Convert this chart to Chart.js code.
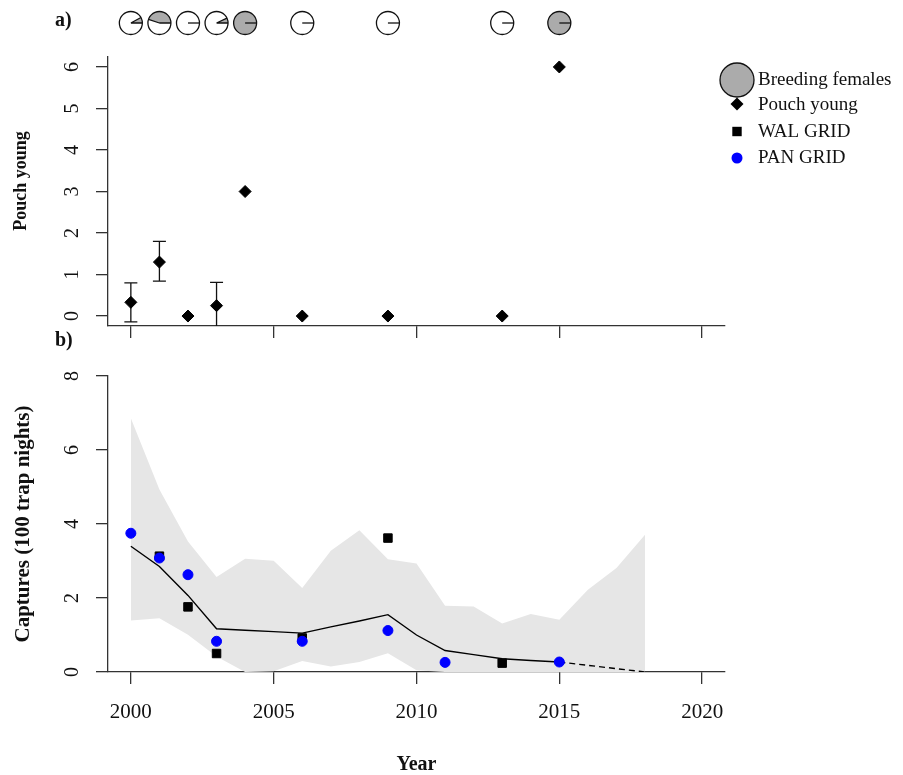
<!DOCTYPE html>
<html>
<head>
<meta charset="utf-8">
<script src="https://cdn.jsdelivr.net/npm/chart.js@4.4.1/dist/chart.umd.min.js"></script>
<style>
  html, body { margin: 0; padding: 0; background: #fff; }
  #wrap { position: relative; width: 903px; height: 775px; }
  #wrap canvas { position: absolute; left: 0; top: 0; }
</style>
</head>
<body>
<div id="wrap">
  <canvas id="pouch" width="903" height="775"></canvas>
  <canvas id="captures" width="903" height="775"></canvas>
</div>
<script>
// ---- panel a: pouch young per survey year ----
const surveyYears     = [2000, 2001, 2002, 2003, 2004, 2006, 2009, 2013, 2015];
const breedingFemales = [0.08, 0.45, 0, 0.07, 1, 0, 0, 0, 1];   // share of females breeding
const pouchYoung      = [0.33, 1.3, 0, 0.25, 3, 0, 0, 0, 6];
const pouchLow        = [-0.14, 0.84, null, -0.31, null, null, null, null, null];
const pouchHigh       = [0.8, 1.8, null, 0.81, null, null, null, null, null];

// ---- panel b: captures per 100 trap nights ----
const walYears    = [2001, 2002, 2003, 2006, 2009, 2013];
const walCaptures = [3.13, 1.76, 0.5, 0.92, 3.62, 0.24];
const panYears    = [2000, 2001, 2002, 2003, 2006, 2009, 2011, 2015];
const panCaptures = [3.75, 3.08, 2.63, 0.83, 0.83, 1.12, 0.26, 0.27];

const trendYears = [2000, 2001, 2002, 2003, 2004, 2005, 2006, 2007, 2008, 2009, 2010, 2011, 2012, 2013, 2014, 2015];
const trendMean  = [3.4, 2.85, 2.07, 1.17, 1.13, 1.09, 1.05, 1.22, 1.38, 1.55, 1.0, 0.58, 0.47, 0.36, 0.31, 0.27];
const projYears  = [2015, 2018];
const projMean   = [0.27, 0];

const bandYears = [2000, 2001, 2002, 2003, 2004, 2005, 2006, 2007, 2008, 2009, 2010, 2011, 2012, 2013, 2014, 2015, 2016, 2017, 2018];
const bandUpper = [6.86, 4.93, 3.53, 2.57, 3.06, 3.01, 2.27, 3.28, 3.83, 3.05, 2.93, 1.79, 1.77, 1.31, 1.57, 1.41, 2.22, 2.81, 3.71];
const bandLower = [1.39, 1.45, 1.01, 0.42, 0, 0.02, 0.3, 0.15, 0.27, 0.51, 0.05, 0, 0, 0, 0, 0, 0, 0, 0];

// ---- tick labels ----
const yearTicks    = [2000, 2005, 2010, 2015, 2020];
const pouchTicks   = [0, 1, 2, 3, 4, 5, 6];
const captureTicks = [0, 2, 4, 6, 8];

// ---- shared styling ----
const SERIF = "'Liberation Serif', 'Times New Roman', serif";
const AXIS = '#333';
const INK = '#111';
const GREY = '#ababab';
const BAND = '#e6e6e6';
const BLUE = '#0000ff';
const W = 903, H = 775;
const PLOT_LEFT = 108, PLOT_RIGHT = 725;

const pts = (xs, ys) => xs.map((x, i) => ({ x, y: ys[i] }));

function xAxis(bottomPx, withLabels) {
  return {
    type: 'linear', min: 1999.2, max: 2020.8,
    afterBuildTicks: s => { s.ticks = yearTicks.map(v => ({ value: v })); },
    afterFit: s => { s.height = H - bottomPx; },
    grid: { display: true, drawOnChartArea: false, drawTicks: true, tickLength: 12, color: AXIS, lineWidth: 1.3 },
    border: { display: true, color: AXIS, width: 1.3 },
    ticks: {
      display: withLabels, padding: 16, color: INK, autoSkip: false, maxRotation: 0,
      font: { family: SERIF, size: 21 }, callback: v => String(v)
    },
    title: withLabels ? {
      display: true, text: 'Year', color: INK, padding: { top: 4, bottom: -2 },
      font: { family: SERIF, size: 20, weight: 'bold' }
    } : { display: false }
  };
}

function yAxis(min, max, ticks, title) {
  return {
    type: 'linear', min, max,
    afterBuildTicks: s => { s.ticks = ticks.map(v => ({ value: v })); },
    afterFit: s => { s.width = PLOT_LEFT; },
    grid: { display: true, drawOnChartArea: false, drawTicks: true, tickLength: 12, color: AXIS, lineWidth: 1.3 },
    border: { display: true, color: AXIS, width: 1.3 },
    ticks: {
      minRotation: 90, maxRotation: 90, crossAlign: 'center', padding: 18, color: INK,
      font: { family: SERIF, size: 20 }, callback: v => String(v)
    },
    title
  };
}

// error bars behind the pouch-young diamonds
const errorBars = {
  id: 'errorBars',
  beforeDatasetsDraw(chart) {
    const { ctx, chartArea: a, scales: { x, y } } = chart;
    ctx.save();
    ctx.beginPath();
    ctx.rect(a.left, a.top, a.right - a.left, a.bottom - a.top);
    ctx.clip();
    ctx.strokeStyle = INK;
    ctx.lineWidth = 1.3;
    surveyYears.forEach((yr, i) => {
      if (pouchLow[i] === null) return;
      const px = x.getPixelForValue(yr);
      const lo = y.getPixelForValue(pouchLow[i]);
      const hi = y.getPixelForValue(pouchHigh[i]);
      ctx.beginPath();
      ctx.moveTo(px, lo); ctx.lineTo(px, hi);
      ctx.moveTo(px - 6.5, hi); ctx.lineTo(px + 6.5, hi);
      ctx.moveTo(px - 6.5, lo); ctx.lineTo(px + 6.5, lo);
      ctx.stroke();
    });
    ctx.restore();
  }
};

// pie row of breeding females above panel a, plus the legend, panel letters and y title
const pieRow = {
  id: 'pieRow',
  afterDraw(chart) {
    const { ctx, scales: { x } } = chart;
    const cy = 23, r = 11.5;
    ctx.save();
    ctx.lineWidth = 1.3;
    ctx.strokeStyle = INK;
    surveyYears.forEach((yr, i) => {
      const cx = x.getPixelForValue(yr);
      const f = breedingFemales[i];
      ctx.beginPath(); ctx.arc(cx, cy, r, 0, Math.PI * 2); ctx.fillStyle = '#fff'; ctx.fill();
      const end = -Math.PI * 2 * f;
      if (f > 0) {
        ctx.beginPath(); ctx.moveTo(cx, cy); ctx.arc(cx, cy, r, 0, end, true); ctx.closePath();
        ctx.fillStyle = GREY; ctx.fill();
      }
      ctx.beginPath();
      ctx.moveTo(cx, cy); ctx.lineTo(cx + r, cy);
      if (f > 0 && f < 1) { ctx.moveTo(cx, cy); ctx.lineTo(cx + r * Math.cos(end), cy + r * Math.sin(end)); }
      ctx.stroke();
      ctx.beginPath(); ctx.arc(cx, cy, r, 0, Math.PI * 2); ctx.stroke();
    });

    // legend
    const lx = 737, tx = 758;
    ctx.fillStyle = GREY;
    ctx.beginPath(); ctx.arc(lx, 80, 17, 0, Math.PI * 2); ctx.fill(); ctx.stroke();
    ctx.fillStyle = '#000';
    ctx.beginPath(); ctx.moveTo(lx - 6.5, 104); ctx.lineTo(lx, 97.5); ctx.lineTo(lx + 6.5, 104); ctx.lineTo(lx, 110.5); ctx.closePath(); ctx.fill();
    ctx.fillRect(lx - 4.7, 131.5 - 4.7, 9.4, 9.4);
    ctx.fillStyle = BLUE;
    ctx.beginPath(); ctx.arc(lx, 158, 5.5, 0, Math.PI * 2); ctx.fill();
    ctx.fillStyle = INK;
    ctx.font = `19px ${SERIF}`;
    ctx.textBaseline = 'middle';
    ctx.textAlign = 'left';
    ctx.fillText('Breeding females', tx, 80);
    ctx.fillText('Pouch young', tx, 105);
    ctx.fillText('WAL GRID', tx, 132);
    ctx.fillText('PAN GRID', tx, 158.5);

    // panel letters
    ctx.font = `bold 20px ${SERIF}`;
    ctx.fillText('a)', 55, 21);
    ctx.fillText('b)', 55, 341);

    // y title of panel a
    ctx.translate(21, 181);
    ctx.rotate(-Math.PI / 2);
    ctx.textAlign = 'center';
    ctx.font = `bold 18px ${SERIF}`;
    ctx.fillText('Pouch young', 0, 0);
    ctx.restore();
  }
};

const common = {
  responsive: false,
  animation: false,
  devicePixelRatio: 1,
  plugins: { legend: { display: false }, tooltip: { enabled: false } },
  events: []
};

new Chart(document.getElementById('pouch'), {
  type: 'line',
  data: {
    datasets: [{
      label: 'Pouch young',
      data: pts(surveyYears, pouchYoung),
      showLine: false,
      pointStyle: 'rectRot', pointRadius: 6, pointBorderWidth: 1,
      pointBackgroundColor: '#000', pointBorderColor: '#000'
    }]
  },
  options: {
    ...common,
    layout: { padding: { top: 57, right: W - PLOT_RIGHT, bottom: 0, left: 0 } },
    scales: {
      x: xAxis(326, false),
      y: yAxis(-0.24, 6.24, pouchTicks, { display: false })
    }
  },
  plugins: [errorBars, pieRow]
});

new Chart(document.getElementById('captures'), {
  type: 'line',
  data: {
    datasets: [
      {
        label: 'PAN GRID', data: pts(panYears, panCaptures), showLine: false,
        pointStyle: 'circle', pointRadius: 5, pointBorderWidth: 1,
        pointBackgroundColor: BLUE, pointBorderColor: BLUE
      },
      {
        label: 'WAL GRID', data: pts(walYears, walCaptures), showLine: false,
        pointStyle: 'rect', pointRadius: 6, pointBorderWidth: 1,
        pointBackgroundColor: '#000', pointBorderColor: '#000'
      },
      {
        label: 'Trend', data: pts(trendYears, trendMean),
        borderColor: '#000', borderWidth: 1.4, pointRadius: 0, fill: false, tension: 0
      },
      {
        label: 'Projection', data: pts(projYears, projMean),
        borderColor: '#000', borderWidth: 1.4, borderDash: [6, 4], pointRadius: 0, fill: false
      },
      {
        label: 'Upper', data: pts(bandYears, bandUpper),
        borderColor: 'rgba(0,0,0,0)', borderWidth: 0, pointRadius: 0,
        fill: '+1', backgroundColor: BAND
      },
      {
        label: 'Lower', data: pts(bandYears, bandLower),
        borderColor: 'rgba(0,0,0,0)', borderWidth: 0, pointRadius: 0, fill: false
      }
    ]
  },
  options: {
    ...common,
    layout: { padding: { top: 376, right: W - PLOT_RIGHT, bottom: 0, left: 0 } },
    scales: {
      x: xAxis(672, true),
      y: yAxis(0, 8, captureTicks, {
        display: true, text: 'Captures (100 trap nights)', color: INK, padding: { top: 11, bottom: 0 },
        font: { family: SERIF, size: 21, weight: 'bold' }
      })
    }
  }
});
</script>
</body>
</html>
